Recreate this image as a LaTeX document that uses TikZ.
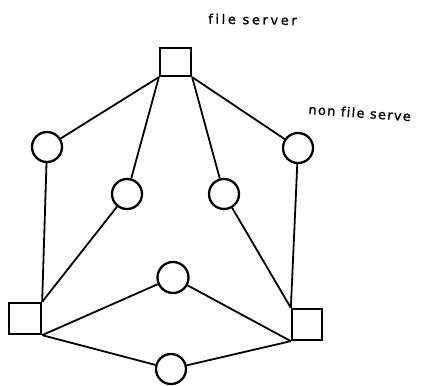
\documentclass[tikz,border=0pt]{standalone}
\usepackage{fontspec}
\newfontfamily\lblA{DejaVu Sans}[LetterSpace=20,Ligatures=NoCommon,FakeBold=1.2]
\newfontfamily\lblB{DejaVu Sans}[LetterSpace=10,Ligatures=NoCommon,FakeBold=1.2]
\begin{document}
\begin{tikzpicture}[x=1pt,y=-1pt,
  server/.style={draw,line width=2.3pt,rectangle,minimum width=30pt,minimum height=30pt,inner sep=0pt},
  client/.style={draw,line width=2.3pt,circle,minimum size=30pt,inner sep=0pt},
  link/.style={line width=1.8pt},
  lbl/.style={inner sep=0pt,anchor=base west,font=\fontsize{13}{15}\selectfont}]
\useasboundingbox (0,0) rectangle (427,385);

% file servers
\node[server,minimum width=31pt,minimum height=28pt] (fs)  at (175.5,62) {};
\node[server,minimum width=32pt,minimum height=31pt] (bl)  at (25,318.5) {};
\node[server,minimum width=30pt,minimum height=31pt] (br)  at (307,324.5) {};

% workstations without a file server
\node[client] (lc)  at (47,147) {};
\node[client] (mlc) at (127,194) {};
\node[client] (mrc) at (224,194) {};
\node[client] (rc)  at (298,148) {};
\node[client,minimum size=31pt] (mc)  at (173,277.5) {};
\node[client] (bc)  at (171,369) {};

% links
\draw[link] (fs.south west) -- (lc);
\draw[link] (fs.south west) -- (mlc);
\draw[link] (fs.south east) -- (mrc);
\draw[link] (fs.south east) -- (rc);
\draw[link] (lc) -- (bl.north east);
\draw[link] (mlc) -- (bl.north east);
\draw[link] (mrc) -- (br.north west);
\draw[link] (rc) -- (br.north west);
\draw[link] (bl.south east) -- (mc);
\draw[link] (bl.south east) -- (bc);
\draw[link] (br.south west) -- (mc);
\draw[link] (br.south west) -- (bc);

% labels
\node[lbl,rotate=-1] (t1) at (208,23.5) {\lblA file server};
\node[lbl,rotate=-4] (t2) at (308,114) {\lblB non file serve};
\end{tikzpicture}
\end{document}
